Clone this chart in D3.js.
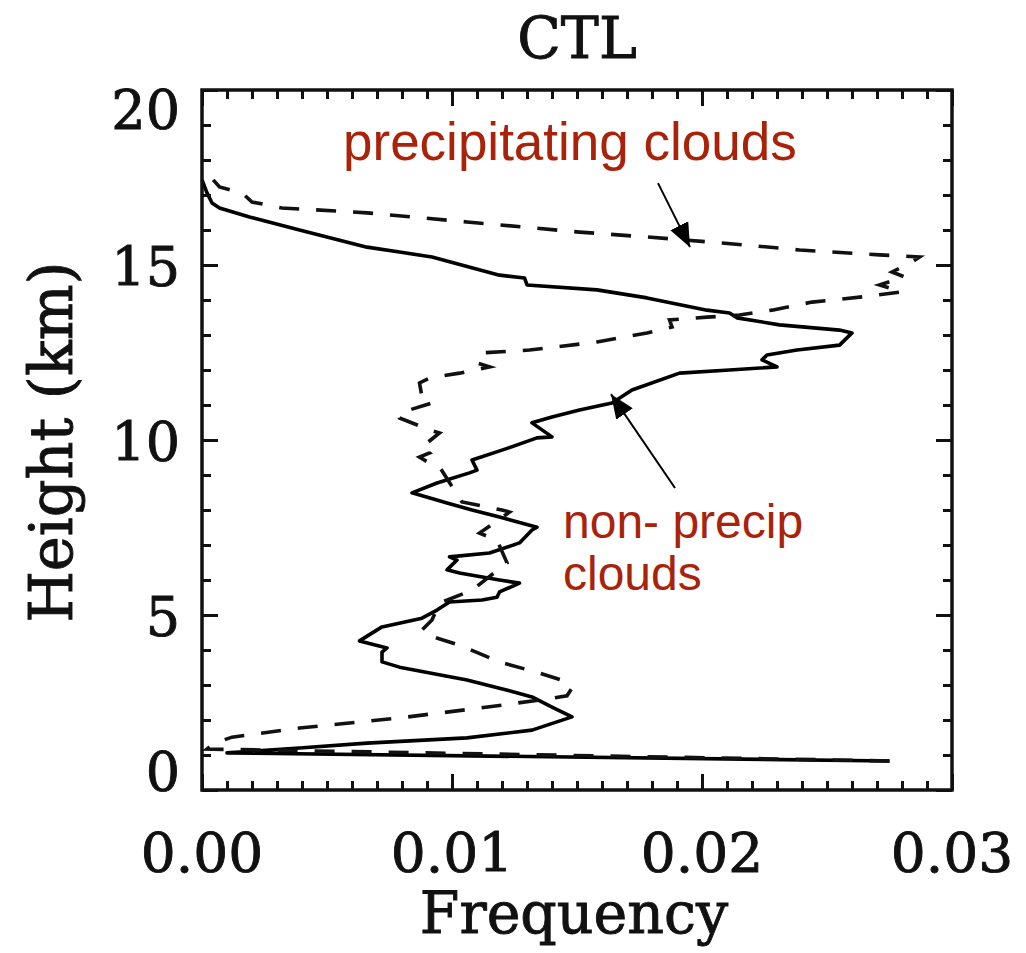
<!DOCTYPE html>
<html>
<head>
<meta charset="utf-8">
<script src="https://cdn.jsdelivr.net/npm/d3@7"></script>
<style>
  body { margin: 0; background: #fff; }
  svg text { fill: #111; }
  .serif { font-family: "DejaVu Serif", serif; stroke: #111; stroke-width: 0.9px; }
</style>
</head>
<body>
<svg id="thesvg" width="1026" height="953"></svg>
<script>
'use strict';

// heights (km) and frequencies, bottom to top
let nonPrecipHeight = [0.83, 1.06, 1.20, 1.34, 1.49, 1.71, 2.09, 2.37, 2.66, 2.91, 3.14, 3.51, 3.66, 3.94, 4.06, 4.26,
  4.66, 4.91, 5.14, 5.37, 5.43, 5.51, 5.66, 5.91, 6.00, 6.20, 6.29, 6.57, 6.66, 6.77, 7.06, 7.43, 7.51, 7.80, 8.00,
  8.20, 8.49, 8.77, 9.06, 9.14, 9.43, 9.71, 10.06, 10.09, 10.49, 10.66, 10.86, 11.06, 11.43, 11.91, 12.00, 12.09,
  12.29, 12.43, 12.57, 12.71, 13.06, 13.14, 13.29, 13.49, 13.63, 13.71, 14.06, 14.29, 14.43, 14.63, 14.71, 15.23,
  15.37, 15.51, 16.00, 16.37, 16.63, 16.77, 17.06, 17.43];
let nonPrecipFreq = [0.0275, 0.0010, 0.0039, 0.0066, 0.0106, 0.0132, 0.0148, 0.0140, 0.0132, 0.0119, 0.0106, 0.0079,
  0.0072, 0.0072, 0.0074, 0.0063, 0.0072, 0.0088, 0.0094, 0.0099, 0.0112, 0.0118, 0.0119, 0.0127, 0.0119, 0.0103,
  0.0098, 0.0102, 0.0099, 0.0115, 0.0127, 0.0132, 0.0134, 0.0119, 0.0108, 0.0098, 0.0084, 0.0094, 0.0107, 0.0110,
  0.0108, 0.0120, 0.0134, 0.0140, 0.0132, 0.0140, 0.0151, 0.0164, 0.0172, 0.0191, 0.0211, 0.0230, 0.0224, 0.0226,
  0.0238, 0.0255, 0.0260, 0.0255, 0.0231, 0.0214, 0.0211, 0.0202, 0.0178, 0.0158, 0.0130, 0.0129, 0.0119, 0.0092,
  0.0079, 0.0066, 0.0039, 0.0019, 0.0007, 0.0004, 0.0002, 0.0000];

let precipHeight = [0.83, 1.17, 1.34, 1.51, 1.77, 2.06, 2.34, 2.57, 2.69, 2.91, 3.09, 3.34, 3.66, 4.14, 4.43, 4.57,
  4.86, 5.34, 5.71, 6.49, 7.14, 7.34, 7.94, 8.00, 8.23, 9.23, 9.34, 9.51, 9.63, 9.80, 10.20, 10.29, 10.63, 10.77,
  11.06, 11.23, 11.63, 11.77, 11.91, 12.09, 12.20, 12.49, 12.57, 12.80, 13.06, 13.23, 13.43, 13.51, 13.57, 13.71,
  13.94, 14.09, 14.23, 14.43, 14.66, 14.80, 15.09, 15.23, 15.29, 15.43, 15.63, 15.80, 15.94, 16.23, 16.49, 16.63,
  16.80, 17.06, 17.23, 17.63, 17.71];
let precipFreq = [0.0275, 0.0002, 0.0005, 0.0012, 0.0039, 0.0079, 0.0111, 0.0135, 0.0146, 0.0148, 0.0146, 0.0135,
  0.0119, 0.0103, 0.0090, 0.0088, 0.0092, 0.0095, 0.0108, 0.0122, 0.0118, 0.0111, 0.0123, 0.0120, 0.0104, 0.0095,
  0.0091, 0.0087, 0.0091, 0.0088, 0.0095, 0.0091, 0.0079, 0.0079, 0.0092, 0.0088, 0.0087, 0.0091, 0.0103, 0.0115,
  0.0110, 0.0112, 0.0131, 0.0158, 0.0178, 0.0188, 0.0187, 0.0202, 0.0215, 0.0228, 0.0244, 0.0264, 0.0280, 0.0271,
  0.0281, 0.0276, 0.0284, 0.0287, 0.0271, 0.0239, 0.0208, 0.0178, 0.0151, 0.0106, 0.0066, 0.0032, 0.0020, 0.0016,
  0.0007, 0.0002, 0.0000];

let xTicks = [0, 0.01, 0.02, 0.03],
    yTicks = [0, 5, 10, 15, 20];

var svg = d3.select("#thesvg"),
    margin = {top: 90, right: 74, bottom: 163, left: 202},
    width = svg.attr("width") - margin.left - margin.right,
    height = svg.attr("height") - margin.top - margin.bottom,
    x = d3.scaleLinear().domain([0, 0.03]).range([0, width]),
    y = d3.scaleLinear().domain([0, 20]).range([height, 0]),
    red = "#a8230a";

var g = svg.append("g")
    .attr("transform", "translate(" + margin.left + "," + margin.top + ")");

// arrowhead
svg.append("defs").append("marker")
    .attr("id", "head")
    .attr("markerUnits", "userSpaceOnUse")
    .attr("viewBox", "0 -10 24 20")
    .attr("refX", 24).attr("refY", 0)
    .attr("markerWidth", 24).attr("markerHeight", 20)
    .attr("orient", "auto")
  .append("path")
    .attr("d", "M0,-10L24,0L0,10Z")
    .attr("fill", "#000");

// ---- curves
function series(h, f) { return h.map(function(d, i) { return {h: d, f: f[i]}; }); }

var line = d3.line()
    .x(function(d) { return x(d.f); })
    .y(function(d) { return y(d.h); });

g.append("path")
    .datum(series(nonPrecipHeight, nonPrecipFreq))
    .attr("d", line)
    .attr("fill", "none")
    .attr("stroke", "#000")
    .attr("stroke-width", 3.6)
    .attr("stroke-linejoin", "round");

g.append("path")
    .datum(series(precipHeight, precipFreq))
    .attr("d", line)
    .attr("fill", "none")
    .attr("stroke", "#111")
    .attr("stroke-width", 3.6)
    .attr("stroke-dasharray", "20,17");

// ---- axes, ticks pointing inward on all four sides
function tickAxis(axis, sel, major, minor) {
  sel.append("g").call(axis.tickValues(minor).tickSize(-9).tickFormat(""));
  sel.append("g").call(axis.tickValues(major).tickSize(-16).tickFormat(""));
}

tickAxis(d3.axisBottom(x), g.append("g").attr("transform", "translate(0," + height + ")"), xTicks, d3.range(0, 0.0301, 0.001));
tickAxis(d3.axisTop(x), g.append("g"), xTicks, d3.range(0, 0.0301, 0.001));
tickAxis(d3.axisLeft(y), g.append("g"), yTicks, d3.range(0, 20.1, 1));
tickAxis(d3.axisRight(y), g.append("g").attr("transform", "translate(" + width + ",0)"), yTicks, d3.range(0, 20.1, 1));

g.selectAll(".domain").remove();
g.selectAll(".tick line").attr("stroke", "#111").attr("stroke-width", 3);

g.append("rect")
    .attr("width", width).attr("height", height)
    .attr("fill", "none")
    .attr("stroke", "#111")
    .attr("stroke-width", 3.5);

// ---- tick labels
g.selectAll(".xlab")
    .data(xTicks)
  .enter().append("text")
    .attr("class", "serif")
    .attr("x", function(d) { return x(d); })
    .attr("y", height + 82)
    .attr("text-anchor", "middle")
    .style("font-size", "55px")
    .text(function(d) { return d3.format(".2f")(d); });

g.selectAll(".ylab")
    .data(yTicks)
  .enter().append("text")
    .attr("class", "serif")
    .attr("x", -22)
    .attr("y", function(d) { return y(d) + (d === 20 ? 20 : d === 0 ? -18 : 2); })
    .attr("dy", "0.36em")
    .attr("text-anchor", "end")
    .style("font-size", "54px")
    .text(function(d) { return d; });

// ---- titles
svg.append("text")
    .attr("class", "serif")
    .attr("x", margin.left + width / 2)
    .attr("y", 58)
    .attr("text-anchor", "middle")
    .style("font-size", "57px")
    .text("CTL");

svg.append("text")
    .attr("class", "serif")
    .attr("x", margin.left + width / 2 - 3)
    .attr("y", 933)
    .attr("text-anchor", "middle")
    .style("font-size", "57px")
    .text("Frequency");

svg.append("text")
    .attr("class", "serif")
    .attr("transform", "translate(72," + (margin.top + y(10) + 2) + ") rotate(-90)")
    .attr("text-anchor", "middle")
    .style("font-size", "59px")
    .text("Height (km)");

// ---- annotations
function annotate(lines, f, h, size, gap) {
  var t = g.append("text")
      .attr("x", x(f)).attr("y", y(h))
      .style("font-family", "Liberation Sans, Arial, sans-serif")
      .style("font-size", size + "px")
      .style("fill", red);
  lines.forEach(function(s, i) {
    t.append("tspan").attr("x", x(f)).attr("dy", i ? gap : 0).text(s);
  });
}
annotate(["precipitating clouds"], 0.00564, 18.0, 53, 0);
annotate(["non- precip", "clouds"], 0.01444, 7.2, 48, 52);

function arrow(f0, h0, f1, h1) {
  g.append("line")
      .attr("x1", x(f0)).attr("y1", y(h0))
      .attr("x2", x(f1)).attr("y2", y(h1))
      .attr("stroke", "#000")
      .attr("stroke-width", 2)
      .attr("marker-end", "url(#head)");
}
arrow(0.01824, 17.34, 0.01952, 15.51);
arrow(0.01892, 8.63, 0.01636, 11.31);
</script>
</body>
</html>
